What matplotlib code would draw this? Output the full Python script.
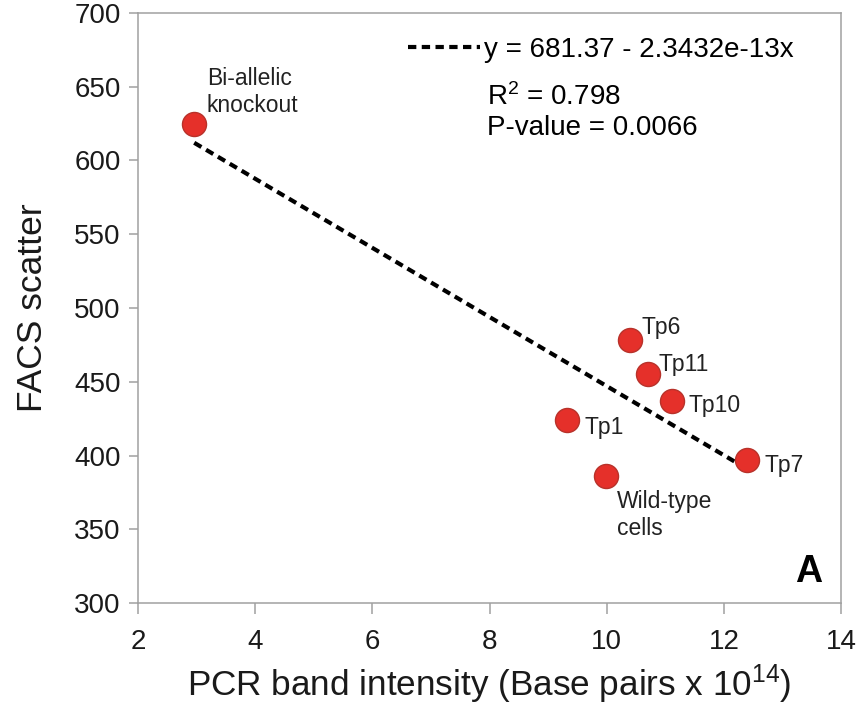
import numpy as np
import matplotlib
matplotlib.use('Agg')
import matplotlib.pyplot as plt

plt.rcParams['font.family'] = ['Liberation Sans', 'DejaVu Sans']
plt.rcParams['mathtext.fontset'] = 'custom'
plt.rcParams['mathtext.rm'] = 'Liberation Sans'
plt.rcParams['mathtext.default'] = 'regular'

# data (x in base pairs x 10^14)
labels = ['Bi-allelic\nknockout', 'Tp6', 'Tp11', 'Tp10', 'Tp1', 'Wild-type\ncells', 'Tp7']
pcr = [2.96, 10.40, 10.70, 11.11, 9.33, 9.99, 12.39]
facs = [625, 478, 455, 437, 424, 386, 397]

# linear fit as reported
intercept = 681.37
slope = -2.3432e-13 * 1e14

# label offsets in points (dx, dy, ha, va)
offsets = [(9, 5, 'left', 'bottom'), (8, 9, 'left', 'center'), (8, 7, 'left', 'center'),
           (12, -3, 'left', 'center'), (12, -5, 'left', 'center'), (8, -10, 'left', 'top'),
           (13, -4, 'left', 'center')]

fig = plt.figure(figsize=(8.65, 7.1), dpi=100)
ax = fig.add_axes([0.1595, 0.1507, 0.8128, 0.831])

xf = np.array([min(pcr), max(pcr)])
ax.plot(xf, intercept + slope * xf, color='black', lw=3, linestyle=(0, (2.0, 1.3)),
        label='y = 681.37 - 2.3432e-13x', zorder=2)
ax.scatter(pcr, facs, s=300, color='#e5302a', edgecolors='#b8322a', linewidths=1, zorder=3)

for lab, x, y, (dx, dy, ha, va) in zip(labels, pcr, facs, offsets):
    ax.annotate(lab, (x, y), xytext=(dx, dy), textcoords='offset points',
                ha=ha, va=va, fontsize=16.5, color='#222222', linespacing=1.2)

ax.set_xlim(2, 14)
ax.set_ylim(300, 700)
ax.set_xticks(range(2, 15, 2))
ax.set_yticks(range(300, 701, 50))

for s in ax.spines.values():
    s.set_color('#a0a0a0')
    s.set_linewidth(1.1)
ax.tick_params(axis='y', length=6.5, width=1.1, color='#a0a0a0', labelsize=20, pad=6, labelcolor='#1a1a1a')
ax.tick_params(axis='x', length=8, width=1.1, color='#a0a0a0', labelsize=20, pad=11, labelcolor='#1a1a1a')

ax.set_xlabel(r'PCR band intensity (Base pairs x 10$^{14}$)', fontsize=25.3, color='#1a1a1a', labelpad=5)
ax.set_ylabel('FACS scatter', fontsize=25.5, color='#1a1a1a', labelpad=18)

ax.legend(loc='upper left', bbox_to_anchor=(0.368, 0.978), frameon=False, fontsize=20,
          handlelength=2.6, handletextpad=0.15, borderaxespad=0)
ax.text(0.496, 0.844, r'R$^2$ = 0.798', transform=ax.transAxes, fontsize=20, va='baseline')
ax.text(0.496, 0.793, 'P-value = 0.0066', transform=ax.transAxes, fontsize=20, va='baseline')
ax.text(0.973, 0.036, 'A', transform=ax.transAxes, fontsize=27, fontweight='bold',
        ha='right', va='baseline')

fig.savefig('out.png', dpi=100)
